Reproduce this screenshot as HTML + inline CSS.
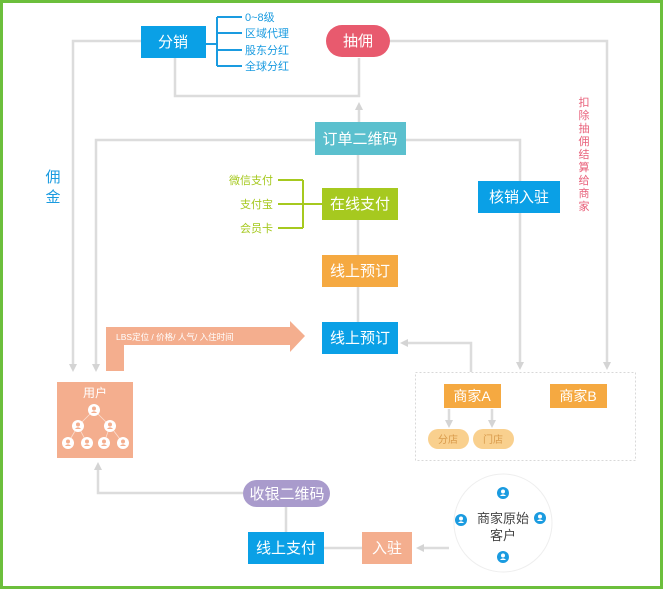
<!DOCTYPE html>
<html><head><meta charset="utf-8"><style>
body{margin:0;background:#fff;}
svg{display:block;font-family:"Liberation Sans","Noto Sans CJK SC",sans-serif;}
</style></head><body>
<svg width="664" height="590" viewBox="0 0 664 590">
<defs>
<marker id="a" markerWidth="8" markerHeight="8" refX="4" refY="4" orient="auto" markerUnits="userSpaceOnUse"><path d="M0,0 L8,4 L0,8 Z" fill="#d4d4d4"/></marker>
<g id="u"><circle r="6" fill="#fff"/><circle cy="-1.5" r="2" fill="#f4ae8e"/><path d="M-3.2,3 Q0,-0.5 3.2,3 Z" fill="#f4ae8e"/></g>
<g id="b"><circle r="6" fill="#1a9be0"/><circle cy="-1.5" r="2" fill="#fff"/><path d="M-3.2,3 Q0,-0.5 3.2,3 Z" fill="#fff"/></g>
</defs>
<rect x="1.5" y="1.5" width="660" height="586" fill="#fff" stroke="#6cbf3c" stroke-width="3"/>
<g fill="none" stroke="#dcdcdc" stroke-width="2.5">
<polyline points="141,41 73,41 73,368" marker-end="url(#a)"/>
<polyline points="175,58 175,96 359,96 359,58"/>
<polyline points="390,41 607,41 607,366" marker-end="url(#a)"/>
<polyline points="359,122 359,106" marker-end="url(#a)"/>
<polyline points="315,140 96,140 96,368" marker-end="url(#a)"/>
<polyline points="406,140 520,140 520,181"/>
<polyline points="520,213 520,366" marker-end="url(#a)"/>
<line x1="358" y1="155" x2="358" y2="322"/>
<polyline points="471,372 471,343 404,343" marker-end="url(#a)"/>
<polyline points="449,409 449,424" marker-end="url(#a)"/>
<polyline points="492,409 492,424" marker-end="url(#a)"/>
<polyline points="449,548 420,548" marker-end="url(#a)"/>
<line x1="362" y1="548" x2="324" y2="548"/>
<line x1="286" y1="532" x2="286" y2="505"/>
<polyline points="243,493 98,493 98,466" marker-end="url(#a)"/>
</g>
<rect x="415.5" y="372.5" width="220" height="88" fill="none" stroke="#d8d8d8" stroke-dasharray="2,2"/>
<!-- blue bracket -->
<g fill="none" stroke="#1a9be0" stroke-width="2">
<line x1="206" y1="44" x2="217" y2="44"/>
<line x1="217" y1="17" x2="217" y2="66"/>
<line x1="217" y1="17" x2="242" y2="17"/><line x1="217" y1="33" x2="242" y2="33"/>
<line x1="217" y1="50" x2="242" y2="50"/><line x1="217" y1="66" x2="242" y2="66"/>
</g>
<g fill="#1a9be0" font-size="11">
<text x="245" y="21">0~8级</text><text x="245" y="37">区域代理</text>
<text x="245" y="54">股东分红</text><text x="245" y="70">全球分红</text>
</g>
<g fill="none" stroke="#a6c91f" stroke-width="2">
<line x1="278" y1="180" x2="303" y2="180"/><line x1="278" y1="204" x2="322" y2="204"/>
<line x1="278" y1="228" x2="303" y2="228"/><line x1="303" y1="180" x2="303" y2="228"/>
</g>
<g fill="#a6c91f" font-size="11" text-anchor="end">
<text x="273" y="184">微信支付</text><text x="273" y="208">支付宝</text><text x="273" y="232">会员卡</text>
</g>
<text x="53" y="182" fill="#1a9be0" font-size="15" text-anchor="middle">佣</text>
<text x="53" y="202" fill="#1a9be0" font-size="15" text-anchor="middle">金</text>
<g fill="#e8607a" font-size="11" text-anchor="middle">
<text x="584" y="106">扣</text><text x="584" y="119">除</text><text x="584" y="132">抽</text><text x="584" y="145">佣</text><text x="584" y="158">结</text><text x="584" y="171">算</text><text x="584" y="184">给</text><text x="584" y="197">商</text><text x="584" y="210">家</text>
</g>
<!-- nodes -->
<g font-size="15" fill="#fff" text-anchor="middle">
<rect x="141" y="26" width="65" height="32" fill="#0aa0e6"/><text x="173" y="47">分销</text>
<rect x="326" y="25" width="64" height="32" rx="16" fill="#e85a6e"/><text x="358" y="46">抽佣</text>
<rect x="315" y="122" width="91" height="33" fill="#5bc0ce"/><text x="360" y="144">订单二维码</text>
<rect x="478" y="181" width="82" height="32" fill="#0aa0e6"/><text x="519" y="202">核销入驻</text>
<rect x="322" y="188" width="76" height="32" fill="#a6c91f"/><text x="360" y="209">在线支付</text>
<rect x="322" y="255" width="76" height="32" fill="#f5a941"/><text x="360" y="276">线上预订</text>
<rect x="322" y="322" width="76" height="32" fill="#0aa0e6"/><text x="360" y="343">线上预订</text>
<rect x="444" y="384" width="57" height="24" fill="#f5a941"/><text x="472" y="401" font-size="14">商家A</text>
<rect x="550" y="384" width="57" height="24" fill="#f5a941"/><text x="578" y="401" font-size="14">商家B</text>
<rect x="243" y="480" width="87" height="27" rx="13.5" fill="#a99bcc"/><text x="287" y="499">收银二维码</text>
<rect x="248" y="532" width="76" height="32" fill="#0aa0e6"/><text x="286" y="553">线上支付</text>
<rect x="362" y="532" width="50" height="32" fill="#f4ae8e"/><text x="387" y="553">入驻</text>
</g>
<rect x="428" y="429" width="41" height="20" rx="10" fill="#f9d08e"/><text x="448" y="443" font-size="10" fill="#d99a4a" text-anchor="middle">分店</text>
<rect x="473" y="429" width="41" height="20" rx="10" fill="#f9d08e"/><text x="493" y="443" font-size="10" fill="#d99a4a" text-anchor="middle">门店</text>
<!-- big arrow -->
<path d="M106,371 L106,327 L290,327 L290,321 L305,336 L290,352 L290,345 L124,345 L124,371 Z" fill="#f4ae8e"/>
<text x="116" y="340" font-size="8.5" fill="#fff">LBS定位 / 价格/ 人气/ 入住时间</text>
<!-- user -->
<rect x="57" y="382" width="76" height="76" fill="#f4ae8e"/>
<text x="95" y="397" font-size="12" fill="#fff" text-anchor="middle">用户</text>
<g stroke="#fff" stroke-width="0.8" opacity="0.6"><line x1="94" y1="410" x2="78" y2="426"/><line x1="94" y1="410" x2="110" y2="426"/><line x1="78" y1="426" x2="68" y2="443"/><line x1="78" y1="426" x2="87" y2="443"/><line x1="110" y1="426" x2="104" y2="443"/><line x1="110" y1="426" x2="123" y2="443"/></g>
<use href="#u" x="94" y="410"/><use href="#u" x="78" y="426"/><use href="#u" x="110" y="426"/>
<use href="#u" x="68" y="443"/><use href="#u" x="87" y="443"/><use href="#u" x="104" y="443"/><use href="#u" x="123" y="443"/>
<!-- circle -->
<circle cx="503" cy="523" r="49" fill="#fff" stroke="#eee" stroke-width="1"/>
<text x="503" y="523" font-size="13" fill="#444" text-anchor="middle">商家原始</text>
<text x="503" y="540" font-size="13" fill="#444" text-anchor="middle">客户</text>
<use href="#b" x="503" y="493"/><use href="#b" x="461" y="520"/><use href="#b" x="540" y="518"/><use href="#b" x="503" y="557"/>
</svg>
</body></html>
